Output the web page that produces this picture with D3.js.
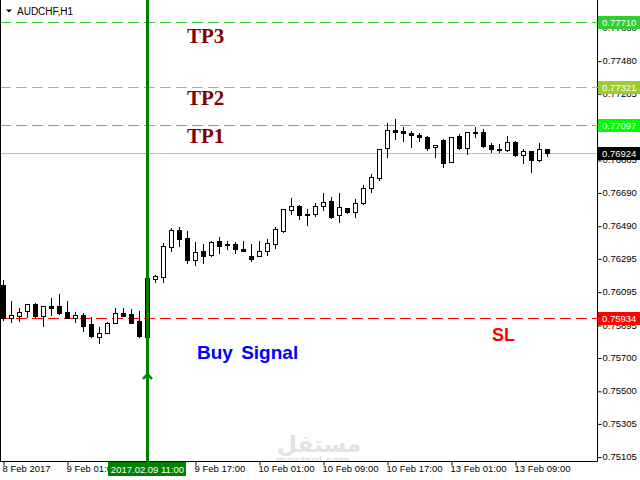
<!DOCTYPE html>
<html><head><meta charset="utf-8">
<script src="https://cdn.jsdelivr.net/npm/d3@7"></script>
<style>body{margin:0;background:#fff}svg{display:block}</style>
</head><body><svg id="c" width="640" height="480"></svg>
<script>
const symbol = "AUDCHF,H1";
const openP  = [0.76134,0.75938,0.75950,0.75976,0.76018,0.75950,0.76008,0.76008,0.75970,0.75938,0.75954,0.75900,0.75824,0.75844,0.75904,0.75968,0.75960,0.75918,0.75824,0.76172,0.76184,0.76360,0.76462,0.76414,0.76282,0.76336,0.76312,0.76396,0.76382,0.76382,0.76348,0.76306,0.76306,0.76336,0.76378,0.76460,0.76582,0.76606,0.76560,0.76558,0.76606,0.76636,0.76552,0.76594,0.76570,0.76624,0.76714,0.76774,0.76954,0.77062,0.77056,0.77044,0.77032,0.77020,0.76960,0.77002,0.76870,0.77026,0.76954,0.77050,0.77050,0.76972,0.76948,0.76942,0.76990,0.76912,0.76936,0.76882,0.76948];
const highP  = [0.76164,0.76038,0.75994,0.76020,0.76024,0.76008,0.76056,0.76080,0.76036,0.75970,0.75964,0.75944,0.75880,0.75914,0.75994,0.75994,0.75988,0.75978,0.76176,0.76194,0.76384,0.76476,0.76482,0.76458,0.76390,0.76380,0.76396,0.76420,0.76396,0.76390,0.76396,0.76378,0.76396,0.76408,0.76480,0.76588,0.76654,0.76612,0.76588,0.76624,0.76684,0.76660,0.76684,0.76594,0.76648,0.76732,0.76798,0.76948,0.77104,0.77128,0.77080,0.77056,0.77044,0.77026,0.76972,0.77008,0.77020,0.77038,0.77050,0.77080,0.77068,0.76984,0.76978,0.77026,0.76996,0.76948,0.76936,0.76984,0.76948];
const lowP   = [0.75924,0.75914,0.75920,0.75944,0.75944,0.75890,0.75954,0.75960,0.75934,0.75914,0.75860,0.75824,0.75784,0.75844,0.75904,0.75950,0.75904,0.75824,0.75822,0.76150,0.76150,0.76340,0.76370,0.76264,0.76252,0.76264,0.76308,0.76328,0.76348,0.76324,0.76336,0.76278,0.76306,0.76312,0.76354,0.76450,0.76558,0.76528,0.76496,0.76546,0.76582,0.76534,0.76510,0.76564,0.76540,0.76618,0.76690,0.76764,0.76900,0.77008,0.76996,0.76960,0.76996,0.76942,0.76904,0.76844,0.76870,0.76948,0.76918,0.77020,0.76960,0.76930,0.76930,0.76936,0.76906,0.76864,0.76810,0.76876,0.76906];
const closeP = [0.75934,0.75954,0.75970,0.76018,0.75950,0.76006,0.75998,0.75964,0.75934,0.75954,0.75890,0.75830,0.75846,0.75904,0.75964,0.75950,0.75908,0.75830,0.76176,0.76186,0.76368,0.76462,0.76408,0.76286,0.76330,0.76310,0.76390,0.76370,0.76372,0.76348,0.76336,0.76292,0.76336,0.76384,0.76468,0.76588,0.76606,0.76552,0.76552,0.76606,0.76630,0.76540,0.76600,0.76570,0.76624,0.76714,0.76780,0.76948,0.77062,0.77050,0.77044,0.77032,0.77020,0.76954,0.76972,0.76864,0.77020,0.76954,0.77050,0.77044,0.76966,0.76948,0.76942,0.76990,0.76912,0.76936,0.76882,0.76948,0.76924];

const yTickLabels = ["0.77680","0.77480","0.77285","0.77085","0.76885","0.76690","0.76490","0.76295","0.76095","0.75895","0.75700","0.75500","0.75305","0.75105"];
const xTickIndex  = [0, 8, 16, 24, 32, 40, 48, 56, 64];
const xTickLabels = ["8 Feb 2017","9 Feb 01:00","","9 Feb 17:00","10 Feb 01:00","10 Feb 09:00","10 Feb 17:00","13 Feb 01:00","13 Feb 09:00"];

const levelNames  = ["TP3","TP2","TP1","SL"];
const levelValues = [0.77710, 0.77321, 0.77097, 0.75934];
const levelColors = ["#32cd32","#9acd32","#00ff00","#ff0000"];
const currentPrice = 0.76924;
const signalIndex = 18;
const signalLabel = "2017.02.09 11:00";
const signalText = "Buy Signal";

const svg = d3.select("#c");
const plotR = 597.5, plotB = 461.5;
const x = d3.scaleLinear().domain([0, 68]).range([3.5, 547.5]);
const y = d3.scaleLinear().domain([0.75105, 0.77480]).range([456.7, 60.7]);
const py = v => Math.round(y(v)) + 0.5;

svg.append("rect").attr("width",640).attr("height",480).attr("fill","#fff");
svg.append("defs").append("clipPath").attr("id","plot")
  .append("rect").attr("x",0).attr("y",0).attr("width",597).attr("height",461);

// watermark
const wm = svg.append("g").attr("clip-path","url(#plot)").attr("fill","#e2e2e2");
wm.append("text").attr("x",319).attr("y",452).attr("text-anchor","middle")
  .attr("font-family","DejaVu Sans").attr("font-weight","bold").attr("font-size",23).text("مستقل");
wm.append("text").attr("x",313).attr("y",465).attr("text-anchor","middle")
  .attr("font-family","Liberation Sans").attr("font-weight","bold").attr("font-size",12).text("mostaql.com");

// level lines
const lv = svg.append("g");
levelValues.forEach((v,i)=>{
  lv.append("line").attr("x1",0).attr("x2",plotR).attr("y1",py(v)).attr("y2",py(v))
    .attr("stroke",levelColors[i]).attr("stroke-width",1).attr("stroke-dasharray","11,5");
});
lv.append("line").attr("x1",0).attr("x2",plotR).attr("y1",py(currentPrice)).attr("y2",py(currentPrice))
  .attr("stroke","#c0c0c0").attr("stroke-width",1);

// candles
const idx = d3.range(openP.length);
const cg = svg.append("g");
cg.selectAll("line.w").data(idx).join("line").attr("class","w")
  .attr("x1",i=>x(i)).attr("x2",i=>x(i))
  .attr("y1",i=>Math.round(y(highP[i]))).attr("y2",i=>Math.round(y(lowP[i]))+1)
  .attr("stroke","#000").attr("stroke-width",1);
cg.selectAll("rect.b").data(idx).join("rect").attr("class","b")
  .attr("x",i=>x(i)-2).attr("width",4)
  .attr("y",i=>Math.round(y(Math.max(openP[i],closeP[i])))+0.5)
  .attr("height",i=>Math.max(1, Math.round(y(Math.min(openP[i],closeP[i])))-Math.round(y(Math.max(openP[i],closeP[i])))))
  .attr("fill",i=>closeP[i]>=openP[i]?"#fff":"#000")
  .attr("stroke","#000").attr("stroke-width",1);

// level annotations
const tpOffsets = [20.4, 17.8, 18.7];
levelNames.slice(0,3).forEach((n,i)=>{
  svg.append("text").attr("x",187).attr("y",y(levelValues[i])+tpOffsets[i])
    .attr("font-family","Liberation Serif").attr("font-weight","bold").attr("font-size",21)
    .attr("fill","#800000").text(n);
});
svg.append("text").attr("x",492).attr("y",y(levelValues[3])+22.5)
  .attr("font-family","Liberation Sans").attr("font-weight","bold").attr("font-size",18)
  .attr("fill","#ff0000").text(levelNames[3]);
svg.append("text").attr("x",197).attr("y",359)
  .attr("font-family","Liberation Sans").attr("font-weight","bold").attr("font-size",19)
  .attr("fill","#0000ff").attr("word-spacing",3).text(signalText);

// signal vertical line + arrow
const sx = x(signalIndex);
svg.append("line").attr("x1",sx).attr("x2",sx).attr("y1",0).attr("y2",plotB)
  .attr("stroke","#008000").attr("stroke-width",3);
svg.append("path").attr("d",`M${sx-4.5},379 L${sx},374 L${sx+4.5},379`)
  .attr("fill","none").attr("stroke","#008000").attr("stroke-width",2.5);

// frame
svg.append("line").attr("x1",0.5).attr("x2",0.5).attr("y1",0).attr("y2",plotB).attr("stroke","#000");
svg.append("line").attr("x1",0).attr("x2",plotR).attr("y1",plotB).attr("y2",plotB).attr("stroke","#000");

// right axis
const ya = svg.append("g").attr("transform",`translate(${plotR},0)`)
  .call(d3.axisRight(y).tickValues(yTickLabels.map(Number)).tickFormat((d,i)=>yTickLabels[i]).tickSize(4).tickPadding(1));
ya.select(".domain").attr("d",`M0,0V${plotB}H0`).attr("stroke","#000");
ya.selectAll(".tick line").attr("stroke","#000").attr("transform","translate(0,0.5)");
ya.selectAll("text").attr("font-family","Liberation Sans").attr("font-size","9.5px").attr("fill","#000");
ya.attr("font-family",null).attr("font-size",null);

// bottom axis
const xa = svg.append("g").attr("transform",`translate(0,${plotB})`)
  .call(d3.axisBottom(x).tickValues(xTickIndex).tickFormat((d,i)=>xTickLabels[i]).tickSize(4).tickPadding(0));
xa.select(".domain").remove();
xa.selectAll(".tick line").attr("stroke","#000");
xa.selectAll("text").attr("text-anchor","start").attr("dx",-1.5)
  .attr("font-family","Liberation Sans").attr("font-size","9.5px").attr("fill","#000");
xa.attr("font-family",null).attr("font-size",null);

// price label boxes
const labels = levelValues.map((v,i)=>({v, c:levelColors[i]})).concat([{v:currentPrice, c:"#000"}]);
const lb = svg.append("g");
labels.forEach(d=>{
  const yy = py(d.v);
  lb.append("rect").attr("x",598).attr("y",yy-6.5).attr("width",42).attr("height",13).attr("fill",d.c);
  lb.append("line").attr("x1",597).attr("x2",601).attr("y1",yy).attr("y2",yy).attr("stroke",d.c);
  lb.append("text").attr("x",602).attr("y",yy+3.5).attr("font-family","Liberation Sans")
    .attr("font-size","9.5px").attr("fill","#fff").text(d.v.toFixed(5));
});

// signal time box
svg.append("rect").attr("x",sx-39.5).attr("y",462).attr("width",78).attr("height",14).attr("fill","#008000");
svg.append("text").attr("x",sx).attr("y",472.5).attr("text-anchor","middle")
  .attr("font-family","Liberation Sans").attr("font-size","9.5px").attr("fill","#fff").text(signalLabel);

// title
svg.append("path").attr("d","M6,9.5 L12,9.5 L9,12.5 Z").attr("fill","#000");
svg.append("text").attr("x",17).attr("y",14.5).attr("font-family","Liberation Sans")
  .attr("font-size","10px").attr("fill","#000").text(symbol);
</script>
</body></html>
